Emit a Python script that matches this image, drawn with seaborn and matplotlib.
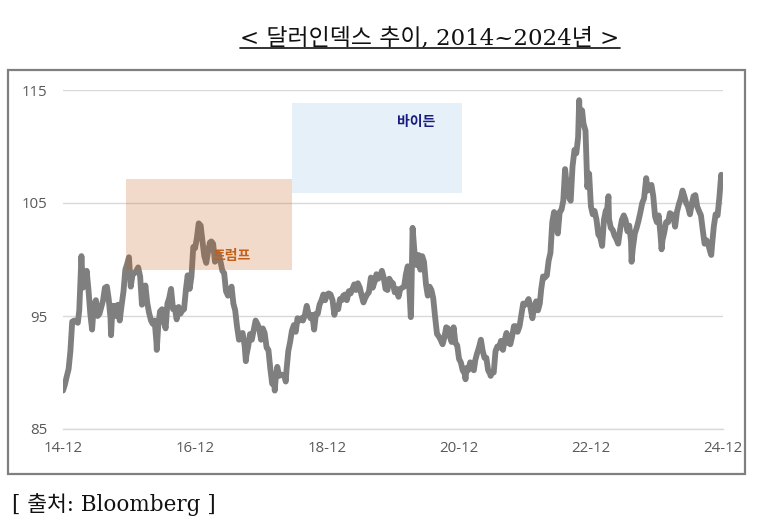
import numpy as np
import pandas as pd
import matplotlib
matplotlib.use("Agg")
import matplotlib.pyplot as plt
import matplotlib.dates as mdates
import seaborn as sns
from matplotlib.patches import Rectangle
from matplotlib.lines import Line2D

# ---------------- data ----------------
start_month = "2014-12-01"
end_month = "2024-11-01"
days_in_month = [1, 11, 21]

# dollar index, three readings per month (day 1, 11, 21)
dxy_regular = [
    88.4, 88.9, 89.6,                                   # 2014-12
    90.3, 91.9, 94.5,  94.6, 94.5, 94.4,  95.5, 99.6, 97.5,   # 2015 Q1
    98.0, 99.0, 97.3,  95.2, 93.8, 96.0,  96.4, 95.0, 95.2,
    95.8, 96.4, 97.5,  97.6, 96.5, 94.8,  95.9, 95.9, 95.0,
    96.0, 94.6, 95.9,  97.2, 99.1, 99.6,  100.2, 97.6, 98.7,
    98.8, 99.0, 99.3,  98.5, 96.0, 96.8,  97.7, 96.2, 95.3,   # 2016
    94.6, 94.3, 94.6,  92.7, 94.1, 95.4,  95.6, 94.5, 93.9,
    96.1, 96.6, 97.4,  95.6, 95.7, 94.7,  95.8, 95.2, 95.5,
    95.6, 97.3, 98.6,  97.4, 98.5, 101.1, 101.0, 101.9, 103.2,
    103.0, 101.6, 100.3, 99.7, 100.7, 101.5, 101.6, 101.4, 99.8,  # 2017
    100.5, 100.5, 99.8, 99.0, 98.8, 97.2,  96.8, 97.2, 97.6,
    96.1, 95.5, 94.1,  92.9, 93.4, 93.5,  92.4, 91.5, 92.3,
    93.4, 92.9, 93.7,  94.6, 94.3, 93.9,  92.9, 93.9, 93.5,
    92.2, 92.0, 90.4,  89.0, 89.4, 89.6,  90.5, 89.7, 89.8,   # 2018
    89.8, 89.6, 90.2,  91.9, 92.7, 93.7,  94.2, 93.6, 94.8,
    94.6, 94.8, 94.6,  95.1, 95.9, 95.2,  94.8, 95.1, 93.8,
    95.2, 95.2, 96.0,  96.4, 96.9, 96.4,  96.9, 97.0, 96.9,
    96.4, 95.1, 95.9,  95.6, 96.5, 96.4,  96.8, 96.9, 96.4,   # 2019
    97.2, 97.0, 97.4,  97.8, 97.3, 97.9,  97.5, 96.8, 96.2,
    96.6, 96.9, 97.1,  98.4, 97.5, 98.0,  98.7, 98.3, 98.5,
    99.0, 98.4, 97.4,  97.3, 98.3, 98.0,  97.9, 97.1, 97.4,
    96.7, 97.4, 97.5,  97.6, 98.7, 99.4,  97.4, 95.9, 102.4,  # 2020
    100.1, 99.5, 100.4, 99.1, 100.3, 99.8, 97.8, 96.8, 97.6,
    97.3, 96.6, 95.0,  93.4, 93.2, 92.9,  92.5, 93.1, 94.0,
    93.9, 93.2, 92.7,  94.0, 92.6, 92.4,  91.2, 90.9, 90.2,
    89.9, 90.4, 90.2,  90.9, 90.4, 90.2,  91.1, 91.7, 92.2,   # 2021
    92.9, 91.9, 91.3,  91.3, 90.2, 89.9,  90.0, 90.0, 91.9,
    92.3, 92.2, 92.8,  92.0, 92.9, 93.5,  92.6, 92.5, 93.2,
    94.1, 94.1, 93.6,  94.1, 95.1, 96.1,  96.0, 96.2, 96.5,
    95.7, 94.8, 95.8,  96.3, 95.5, 96.1,  97.4, 98.5, 98.4,   # 2022
    98.6, 99.9, 100.6, 103.3, 104.2, 103.1, 102.3, 104.2, 104.4,
    105.2, 108.0, 106.4, 105.5, 105.2, 108.2, 109.7, 109.4, 110.8,
    112.0, 112.8, 112.0, 111.4, 106.4, 107.6, 104.7, 104.0, 104.3,
    103.5, 102.2, 102.0, 101.2, 103.5, 104.3, 104.5, 103.6, 102.8,  # 2023
    102.6, 102.1, 101.8, 101.4, 102.6, 103.5, 103.9, 103.5, 102.5,
    103.0, 101.6, 101.0, 102.3, 102.8, 103.4, 104.2, 105.0, 105.4,
    106.9, 106.1, 106.2, 106.6, 105.6, 103.8, 103.3, 103.9, 102.2,
    101.7, 102.4, 103.3, 103.3, 104.1, 104.0, 103.8, 102.9, 104.2,  # 2024
    104.9, 105.4, 106.1, 105.6, 105.0, 104.7, 104.0, 104.9, 105.6,
    105.7, 104.7, 104.3, 103.9, 102.6, 101.4, 101.7, 101.3, 100.7,
    101.2, 102.9, 104.0, 103.9, 105.5, 107.5,
]

# extreme readings between the regular dates
extra_dates = ["2015-03-13", "2015-08-24", "2016-05-03", "2017-09-08",
               "2018-02-15", "2018-04-17", "2020-03-09", "2020-03-19",
               "2021-01-06", "2021-05-25", "2022-09-27", "2022-10-13",
               "2023-03-08", "2023-07-14", "2023-10-03", "2023-12-27",
               "2024-09-27", "2024-11-26", "2024-12-01"]
extra_values = [100.3, 93.3, 92.0, 91.0,
                88.4, 89.2, 94.9, 102.8,
                89.4, 89.7, 114.1, 113.2,
                105.6, 99.8, 107.2, 100.9,
                100.4, 106.6, 106.9]

tick_dates = ["2014-12-01", "2016-12-01", "2018-12-01", "2020-12-01",
              "2022-12-01", "2024-12-01"]
tick_labels = ["14-12", "16-12", "18-12", "20-12", "22-12", "24-12"]
y_ticks = [85, 95, 105, 115]

title = "< 달러인덱스 추이, 2014~2024년 >"
source = "[ 출처: Bloomberg ]"
trump_label = "트럼프"
biden_label = "바이든"
trump_box = ("2015-11-15", "2018-05-20", 99.1, 107.1)
biden_box = ("2018-05-20", "2020-12-15", 105.9, 113.85)

# ---------------- build frame ----------------
months = pd.date_range(start_month, end_month, freq="MS")
reg_dates = [m + pd.Timedelta(days=d - 1) for m in months for d in days_in_month]
df = pd.DataFrame({"date": list(reg_dates) + list(pd.to_datetime(extra_dates)),
                   "dxy": dxy_regular + extra_values})
df = df.sort_values("date").reset_index(drop=True)

# ---------------- figure ----------------
sns.set_theme(style="white")
plt.rcParams["font.family"] = ["Open Sans", "Noto Sans CJK KR", "DejaVu Sans"]

W, H = 763, 521
fig = plt.figure(figsize=(W / 100, H / 100), dpi=100)
ax = fig.add_axes([63 / W, 1 - 429 / H, (723 - 63) / W, (429 - 90) / H])

sns.lineplot(data=df, x="date", y="dxy", ax=ax, color="#7f7f7f",
             linewidth=4.2, zorder=3, solid_capstyle="round")

ax.set_xlim(pd.Timestamp(tick_dates[0]), pd.Timestamp(tick_dates[-1]))
ax.set_ylim(85, 115)
ax.set_yticks(y_ticks)
ax.set_xticks(pd.to_datetime(tick_dates))
ax.set_xticklabels(tick_labels)
ax.set_xlabel("")
ax.set_ylabel("")
ax.grid(axis="y", color="#d9d9d9", linewidth=1)
ax.grid(axis="x", visible=False)
for s in ["top", "right", "left"]:
    ax.spines[s].set_visible(False)
ax.spines["bottom"].set_color("#d9d9d9")
ax.spines["bottom"].set_linewidth(1)
ax.tick_params(axis="x", labelsize=10.8, length=5, width=1,
               direction="out", pad=4, color="#d9d9d9", labelcolor="#595959")
ax.tick_params(axis="y", labelsize=10.8, length=0, pad=11, labelcolor="#595959")

# shaded boxes
def add_box(spec, color, alpha, z):
    x0 = mdates.date2num(pd.Timestamp(spec[0]))
    x1 = mdates.date2num(pd.Timestamp(spec[1]))
    ax.add_patch(Rectangle((x0, spec[2]), x1 - x0, spec[3] - spec[2],
                           facecolor=color, alpha=alpha, edgecolor="none",
                           zorder=z))

add_box(trump_box, "#c55a11", 0.22, 4)
add_box(biden_box, "#deebf7", 0.75, 1)

ax.text(pd.Timestamp("2017-06-20"), 100.3, trump_label, color="#c0601a",
        fontsize=10, fontweight="bold", ha="center", va="center", zorder=5,
        family=["Noto Sans CJK KR"])
ax.text(pd.Timestamp("2020-04-07"), 112.2, biden_label, color="#1a1a80",
        fontsize=10, fontweight="bold", ha="center", va="center", zorder=5,
        family=["Noto Sans CJK KR"])

# outer frame
fig.patches.append(Rectangle((8 / W, 1 - 474 / H), (745 - 8) / W, (474 - 70) / H,
                             transform=fig.transFigure, fill=False,
                             edgecolor="#7f7f7f", linewidth=1.6))

# title with underline
serif = ["DejaVu Serif", "Noto Sans CJK KR"]
t = fig.text(430 / W, 1 - 38 / H, title, ha="center", va="center",
             fontsize=16.5, family=serif, color="#111111")
src = fig.text(12 / W, 1 - 505 / H, source, ha="left", va="center",
               fontsize=15.5, family=serif, color="#111111")

fig.canvas.draw()
bb = t.get_window_extent()
fig.lines.append(Line2D([bb.x0 / W, bb.x1 / W], [1 - 48 / H, 1 - 48 / H],
                        transform=fig.transFigure, color="#111111",
                        linewidth=1.2))

fig.savefig("out.png", dpi=100)
